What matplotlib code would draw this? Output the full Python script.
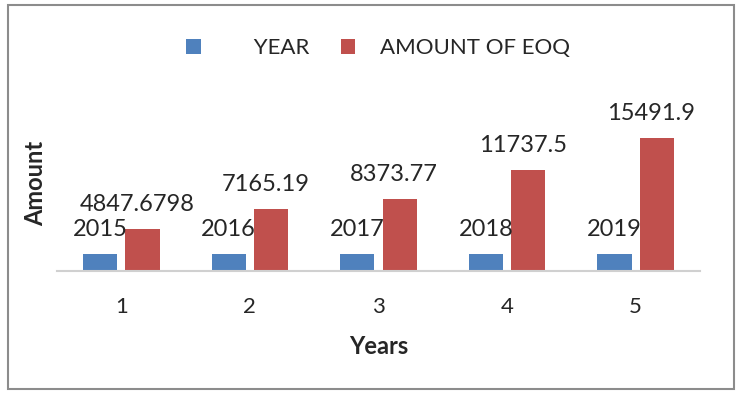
"""EOQ amount per year, clustered bar chart."""

import matplotlib
matplotlib.use('Agg')
import matplotlib.pyplot as plt
import numpy as np
from matplotlib.patches import Rectangle

plt.rcParams['font.family'] = ['Lato', 'DejaVu Sans']

categories = ['1', '2', '3', '4', '5']
year_values = [2015, 2016, 2017, 2018, 2019]
eoq_values = [4847.6798, 7165.19, 8373.77, 11737.5, 15491.9]
year_labels = ['2015', '2016', '2017', '2018', '2019']
eoq_labels = ['4847.6798', '7165.19', '8373.77', '11737.5', '15491.9']

BLUE = '#4F81BD'
RED = '#C0504D'
TEXT = '#262626'

fig = plt.figure(figsize=(7.38, 3.94), dpi=100)
ax = fig.add_axes([57 / 738, 1 - 271 / 394, 643 / 738, 176 / 394])

x = np.arange(len(categories))
width = 0.265
off = 0.165
# the legend entry for YEAR has extra leading space, as in the original
b1 = ax.bar(x - off, year_values, width, color=BLUE, label='     YEAR')
b2 = ax.bar(x + off, eoq_values, width, color=RED, label='AMOUNT OF EOQ')

# data labels sit about 18 px above each bar
for bar, lab in zip(b1, year_labels):
    ax.annotate(lab, (bar.get_x() + bar.get_width() / 2, bar.get_height()),
                xytext=(0, 13), textcoords='offset points', ha='center',
                va='baseline', fontsize=17, color=TEXT)
for bar, lab in zip(b2, eoq_labels):
    ax.annotate(lab, (bar.get_x() + bar.get_width() / 2, bar.get_height()),
                xytext=(-4, 13), textcoords='offset points', ha='center',
                va='baseline', fontsize=17, color=TEXT)

ax.set_xlim(-0.5, len(categories) - 0.5)
ax.set_ylim(0, 20500)
ax.set_xticks(x)
ax.set_xticklabels(categories, fontsize=16, color=TEXT)
ax.tick_params(axis='x', length=0, pad=19)
ax.set_yticks([])
for side in ['top', 'right', 'left']:
    ax.spines[side].set_visible(False)
ax.spines['bottom'].set_color('#d0d0d0')
ax.spines['bottom'].set_linewidth(1.5)

ax.set_xlabel('Years', fontsize=17, fontweight='bold', color=TEXT, labelpad=13)
fig.text(36 / 738, 1 - 183 / 394, 'Amount', rotation=90, fontsize=17,
         fontweight='bold', color=TEXT, ha='center', va='center')

fig.legend(loc='center', bbox_to_anchor=(378 / 738, 1 - 48 / 394), ncol=2,
           frameon=False, fontsize=16, handlelength=0.65, handleheight=0.65,
           handletextpad=1.1, columnspacing=1.4, labelcolor=TEXT)

fig.patches.append(Rectangle((8 / 738, 1 - 389 / 394), 726 / 738, 384 / 394,
                             transform=fig.transFigure, fill=False,
                             edgecolor='#8c8c8c', linewidth=1.5))

fig.savefig('out.png', dpi=100)
plt.close(fig)
